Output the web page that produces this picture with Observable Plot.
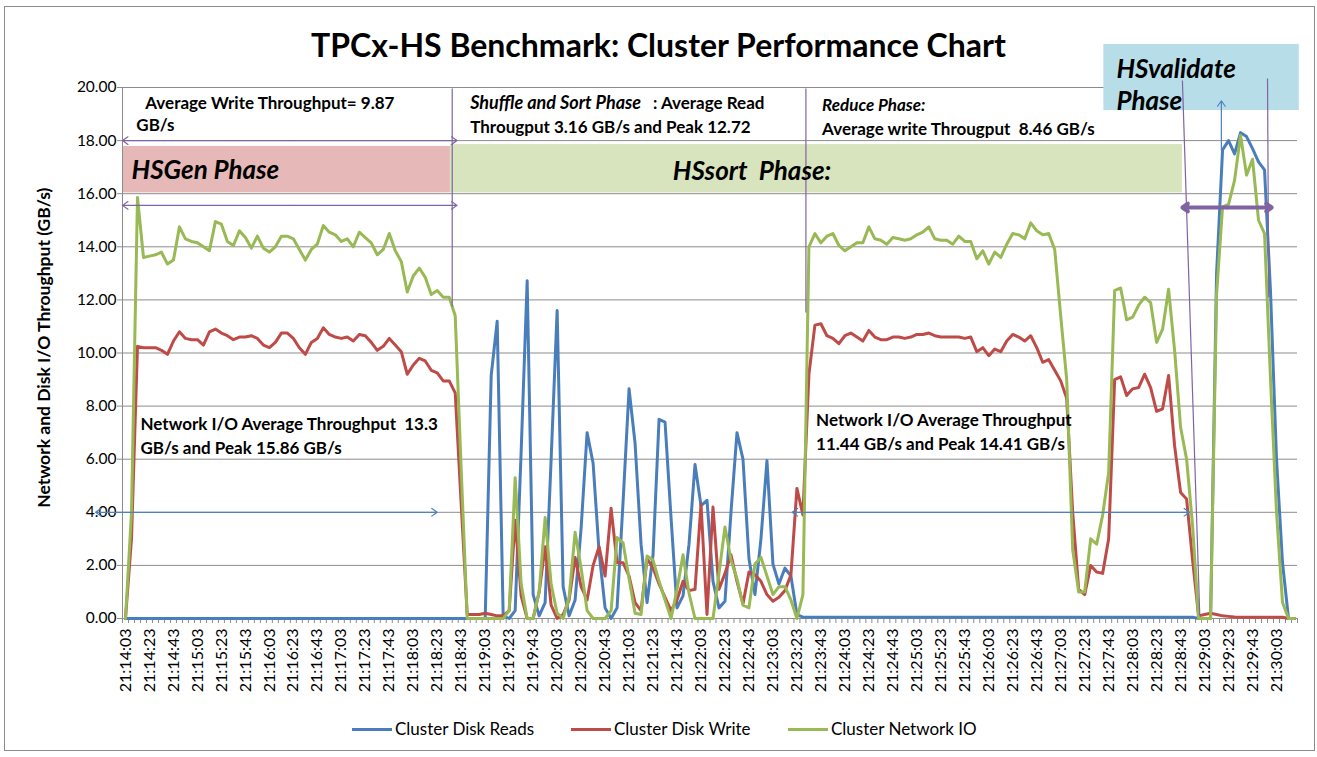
<!DOCTYPE html>
<html><head><meta charset="utf-8">
<script src="https://cdn.jsdelivr.net/npm/d3@7"></script>
<script src="https://cdn.jsdelivr.net/npm/@observablehq/plot@0.6"></script>
<style>
body{margin:0;background:#fff;}
#wrap{position:relative;width:1317px;height:757px;overflow:hidden;font-family:Lato,"Open Sans",sans-serif;color:#000;}
#border{position:absolute;left:4px;top:6px;width:1311px;height:745px;border:1px solid #8c8c8c;box-sizing:border-box;}
#chart{position:absolute;left:0;top:0;}
#title{position:absolute;left:0;top:26px;width:1317px;text-align:center;font-size:32px;line-height:38px;font-weight:bold;}
#legend{position:absolute;left:0;top:718px;width:1317px;height:24px;font-size:17px;line-height:22px;}
.item{position:absolute;top:0;display:flex;align-items:center;white-space:nowrap;}
.sw{width:40px;height:3px;margin-right:3px;}
svg text{white-space:pre;}
</style></head>
<body>
<div id="wrap">
  <div id="border"></div>
  <div id="chart"></div>
  <div id="title">TPCx-HS Benchmark: Cluster Performance Chart</div>
  <div id="legend"></div>
</div>
<script>
// Tick labels (every 4th sample, 5 s sampling)
const timeLabels = [
 "21:14:03","21:14:23","21:14:43","21:15:03","21:15:23","21:15:43","21:16:03","21:16:23","21:16:43",
 "21:17:03","21:17:23","21:17:43","21:18:03","21:18:23","21:18:43","21:19:03","21:19:23","21:19:43",
 "21:20:03","21:20:23","21:20:43","21:21:03","21:21:23","21:21:43","21:22:03","21:22:23","21:22:43",
 "21:23:03","21:23:23","21:23:43","21:24:03","21:24:23","21:24:43","21:25:03","21:25:23","21:25:43",
 "21:26:03","21:26:23","21:26:43","21:27:03","21:27:23","21:27:43","21:28:03","21:28:23","21:28:43",
 "21:29:03","21:29:23","21:29:43","21:30:03"];

const seriesNames = ["Cluster Disk Reads","Cluster Disk Write","Cluster Network IO"];
const seriesColors = ["#4A7EBB","#BE4B48","#98B954"];
const legendLeft = [352, 571, 788];

const diskReads = [
 0,0,0,0,0,0,0,0,0,0,
 0,0,0,0,0,0,0,0,0,0,
 0,0,0,0,0,0,0,0,0,0,
 0,0,0,0,0,0,0,0,0,0,
 0,0,0,0,0,0,0,0,0,0,
 0,0,0,0,0,0,0,0,0,0,
 0,9.15,11.2,0.1,0,0.3,6.3,12.72,0.9,0.1,
 0.6,6.0,11.6,1.2,0.1,0.7,3.4,7.0,5.85,2.5,
 0.4,0,0.4,4.4,8.65,6.6,2.8,0.6,2.4,7.5,
 7.4,3.8,0.4,0.85,2.8,5.8,4.25,4.45,1.4,0.4,
 0.65,4.0,7.0,6.0,2.25,0.9,3.0,5.95,2.05,1.3,
 1.9,1.6,0.15,0.05,0.05,0.05,0.05,0.05,0.05,0.05,
 0.05,0.05,0.05,0.05,0.05,0.05,0.05,0.05,0.05,0.05,
 0.05,0.05,0.05,0.05,0.05,0.05,0.05,0.05,0.05,0.05,
 0.05,0.05,0.05,0.05,0.05,0.05,0.05,0.05,0.05,0.05,
 0.05,0.05,0.05,0.05,0.05,0.05,0.05,0.05,0.05,0.05,
 0.05,0.05,0.05,0.05,0.05,0.05,0.05,0.05,0.05,0.05,
 0.05,0.05,0.05,0.05,0.05,0.05,0.05,0.05,0.05,0,
 0,0,13.0,17.65,18.0,17.5,18.3,18.15,17.7,17.2,
 16.9,12.3,6.0,2.1,0,0];

const diskWrite = [
 0,3.0,10.25,10.2,10.2,10.2,10.1,9.95,10.45,10.8,
 10.55,10.5,10.5,10.3,10.8,10.9,10.75,10.65,10.5,10.6,
 10.6,10.65,10.55,10.3,10.2,10.4,10.75,10.75,10.55,10.2,
 9.95,10.4,10.55,10.95,10.7,10.6,10.55,10.6,10.45,10.7,
 10.65,10.4,10.1,10.25,10.55,10.3,10.05,9.2,9.55,9.8,
 9.7,9.35,9.25,8.95,8.95,8.5,4.3,0.15,0.15,0.15,
 0.2,0.15,0.1,0.1,0.3,3.7,0.85,0,0,1.0,
 2.7,0.5,0,0.15,0.7,2.3,1.2,0.7,2.0,2.7,
 1.6,4.15,2.1,2.1,1.6,0.6,0.3,2.25,1.9,1.3,
 0.8,0.3,0.7,1.4,1.05,1.1,4.3,0.15,4.2,1.1,
 1.7,2.4,1.4,0.55,1.75,1.65,1.4,0.9,0.65,0.8,
 1.05,1.65,4.9,3.9,9.2,11.05,11.1,10.65,10.55,10.35,
 10.65,10.75,10.6,10.45,10.85,10.6,10.5,10.5,10.6,10.6,
 10.55,10.6,10.7,10.7,10.75,10.65,10.6,10.6,10.6,10.6,
 10.55,10.6,10.05,10.2,9.9,10.15,10.05,10.45,10.7,10.6,
 10.45,10.65,10.2,9.65,9.75,9.35,8.95,8.3,4.0,1.1,
 0.9,2.0,1.75,1.7,3.0,9.0,9.1,8.4,8.65,8.7,
 9.2,8.7,7.8,7.9,9.15,6.5,4.75,4.5,2.2,0.1,
 0.15,0.2,0.15,0.1,0.08,0.06,0.05,0.05,0.05,0.05,
 0.05,0.05,0.05,0.05,0,0];

const networkIO = [
 0,4.0,15.86,13.6,13.65,13.7,13.8,13.35,13.5,14.75,
 14.3,14.2,14.15,14.0,13.85,14.95,14.85,14.2,14.05,14.6,
 14.35,13.95,14.4,13.95,13.8,14.0,14.4,14.4,14.3,13.9,
 13.5,13.9,14.1,14.8,14.55,14.45,14.2,14.3,14.0,14.55,
 14.35,14.15,13.7,13.9,14.5,13.85,13.45,12.3,12.9,13.2,
 12.85,12.2,12.35,12.1,12.1,11.4,5.6,0,0,0,
 0,0,0,0,0.3,5.3,1.3,0,0,1.0,
 3.8,1.3,0.2,0,0.8,3.25,1.9,0.3,0,0,
 0,0.3,3.05,2.85,1.5,0.2,0.15,2.35,2.2,1.4,
 0.7,0,1.1,2.4,0.95,0,0,0,0,1.7,
 3.45,2.2,1.5,0.5,0.4,2.05,2.3,1.6,0.9,1.2,
 1.2,0.7,0,0.9,14.0,14.5,14.15,14.4,14.5,14.05,
 13.85,14.0,14.15,14.15,14.75,14.3,14.25,14.1,14.35,14.3,
 14.25,14.3,14.45,14.55,14.75,14.3,14.25,14.25,14.1,14.4,
 14.2,14.2,13.55,13.85,13.35,13.8,13.6,14.1,14.5,14.45,
 14.3,14.9,14.6,14.45,14.5,13.9,11.4,9.0,2.6,1.0,
 1.0,3.0,2.8,3.9,5.5,12.35,12.45,11.25,11.35,11.8,
 12.1,11.9,10.4,10.9,12.4,10.1,7.2,6.0,3.5,0,
 0,0,12.2,15.5,15.6,16.5,18.2,16.7,17.3,15.0,
 14.5,9.0,4.0,0.6,0,0];

const yTicks = [0,2,4,6,8,10,12,14,16,18,20];

// Annotations, in chart units (x: sample index, y: GB/s)
const phaseBoxes = [
 {x1:-0.5, x2:54.2, y1:16.03, y2:17.78, fill:"#E6B9B8"},
 {x1:54.2, x2:176.3, y1:16.03, y2:17.85, fill:"#D7E4BD"},
 {x1:163.2, x2:195.8, y1:19.13, y2:21.62, fill:"#B7DEE8"}
];
const phaseLabels = [
 {text:"HSGen Phase", x:1.0, y:16.87},
 {text:"HSsort  Phase:", x:91.3, y:16.84},
 {text:"HSvalidate", x:165.3, y:20.68},
 {text:"Phase", x:165.3, y:19.47}
];
const notesPlain = [
 {text:"Average Write Throughput= 9.87", x:3.3, y:19.4},
 {text:"GB/s", x:1.8, y:18.57},
 {text:" : Average Read", x:87.3, y:19.4},
 {text:"Througput 3.16 GB/s and Peak 12.72", x:57.5, y:18.49},
 {text:"Average write Througput  8.46 GB/s", x:116.2, y:18.42},
 {text:"Network I/O Average Throughput  13.3", x:2.5, y:7.31},
 {text:"GB/s and Peak 15.86 GB/s", x:2.5, y:6.4},
 {text:"Network I/O Average Throughput", x:115.2, y:7.46},
 {text:"11.44 GB/s and Peak 14.41 GB/s", x:115.2, y:6.55}
];
const notesItalic = [
 {text:"Shuffle and Sort Phase", x:57.5, y:19.4, size:18},
 {text:"Reduce Phase:", x:116.2, y:19.32, size:17}
];
const doubleArrows = [
 {x1:-0.5, x2:55.3, y:18.0, stroke:"#8064A2", w:1.2},
 {x1:-0.5, x2:55.3, y:15.56, stroke:"#8064A2", w:1.2},
 {x1:-5, x2:52, y:4.0, stroke:"#4F81BD", w:1.2},
 {x1:111.2, x2:177.5, y:4.0, stroke:"#4F81BD", w:1.2},
 {x1:176.3, x2:191.2, y:15.48, stroke:"#8064A2", w:4}
];
const singleArrows = [
 {x1:182.8, y1:17.63, x2:182.8, y2:19.5, stroke:"#4F81BD", w:1.2}
];
const phaseLines = [
 {x1:54.5, y1:19.96, x2:54.5, y2:11.75},
 {x1:113.5, y1:19.96, x2:113.5, y2:11.53},
 {x1:176.3, y1:20.26, x2:179.2, y2:0.1},
 {x1:190.5, y1:20.34, x2:190.7, y2:12.09}
];

const N = diskReads.length;
const rows = [];
[diskReads, diskWrite, networkIO].forEach((arr, s) => arr.forEach((v, i) => rows.push({i, v, s: seriesNames[s]})));
const halves = doubleArrows.flatMap(a => {
  const m = (a.x1 + a.x2) / 2;
  return [{...a, xa:m, xb:a.x1}, {...a, xa:m, xb:a.x2}];
});
const font = "Lato, 'Open Sans', sans-serif";

const chart = Plot.plot({
  width: 1317, height: 712,
  marginLeft: 122, marginRight: 20, marginTop: 87, marginBottom: 94,
  style: {fontFamily: font, fontSize: "15px", color: "#000", background: "transparent", overflow: "visible"},
  x: {domain: [-0.5, N - 0.5]},
  y: {domain: [0, 20]},
  color: {domain: seriesNames, range: seriesColors},
  marks: [
    Plot.gridY(yTicks, {stroke: "#8c8c8c", strokeOpacity: 1}),
    Plot.rect(phaseBoxes, {x1:"x1", x2:"x2", y1:"y1", y2:"y2", fill: d => d.fill}),
    Plot.ruleX([-0.5], {stroke: "#8c8c8c"}),
    Plot.ruleY([0], {stroke: "#8c8c8c"}),
    Plot.axisY({ticks: yTicks, tickFormat: d => d.toFixed(2), tickSize: 5, tickPadding: 1, stroke: "#8c8c8c", label: null, fontSize: 15.5}),
    Plot.axisX({ticks: d3.range(-0.5, N, 1), tickSize: 5, stroke: "#8c8c8c", tickFormat: () => "", label: null}),
    Plot.axisX({ticks: d3.range(0, N, 4), tickSize: 0, tickPadding: 10, tickRotate: -90, tickFormat: i => timeLabels[i / 4], label: null, fontSize: 16}),
    Plot.text(["Network and Disk I/O Throughput (GB/s)"], {frameAnchor: "left", textAnchor: "middle", y: 10.2, dx: -78, rotate: -90, fontWeight: "bold", fontSize: 17.5}),
    Plot.line(rows, {x: "i", y: "v", z: "s", stroke: "s", strokeWidth: 3, strokeLinejoin: "round"}),
    Plot.link(phaseLines, {x1:"x1", y1:"y1", x2:"x2", y2:"y2", stroke: "#8064A2", strokeWidth: 1.2}),
    Plot.arrow(halves, {x1:"xa", x2:"xb", y1:"y", y2:"y", stroke: d => d.stroke, strokeWidth: d => d.w, headLength: 10, headAngle: 70}),
    Plot.arrow(singleArrows, {x1:"x1", x2:"x2", y1:"y1", y2:"y2", stroke: d => d.stroke, strokeWidth: d => d.w, headLength: 10, headAngle: 70}),
    Plot.text(phaseLabels, {x:"x", y:"y", text:"text", textAnchor:"start", fontSize: 26, fontWeight:"bold", fontStyle:"italic", fill:"#000"}),
    Plot.text(notesPlain, {x:"x", y:"y", text:"text", textAnchor:"start", fontSize: 17, fontWeight:"bold", fill:"#000"}),
    Plot.text(notesItalic, {x:"x", y:"y", text:"text", textAnchor:"start", fontSize: d => d.size, fontWeight:"bold", fontStyle:"italic", fill:"#000"})
  ]
});
document.getElementById("chart").appendChild(chart);

const legend = d3.select("#legend");
seriesNames.forEach((n, k) => {
  const it = legend.append("div").attr("class", "item").style("left", legendLeft[k] + "px");
  it.append("div").attr("class", "sw").style("background", seriesColors[k]);
  it.append("span").text(n);
});
</script>
</body></html>
